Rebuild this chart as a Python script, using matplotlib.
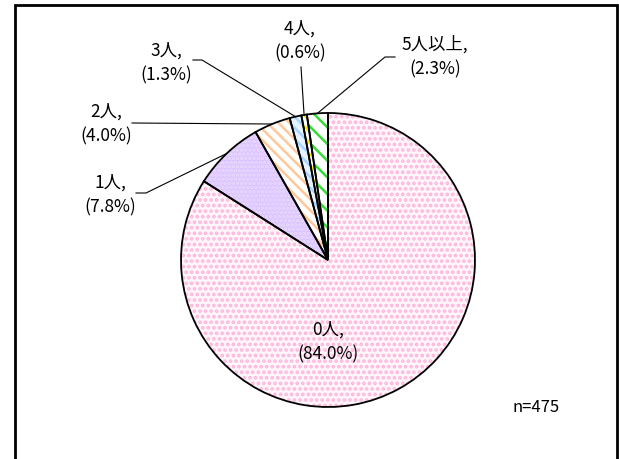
"""Pie chart of household counts (0人 .. 5人以上), n=475."""
import numpy as np
import matplotlib
matplotlib.use("Agg")
import matplotlib.pyplot as plt
from matplotlib.patches import Rectangle

plt.rcParams["font.family"] = ["Noto Sans CJK JP", "DejaVu Sans"]
plt.rcParams["hatch.linewidth"] = 1.8

categories = ["0人", "1人", "2人", "3人", "4人", "5人以上"]
shares = [84.0, 7.8, 4.0, 1.3, 0.6, 2.3]
n_total = 475

face_colors = ["#FFF6FB", "#DCC4FF", "#FFFFFF", "#E6F2FF", "#FFFFFF", "#FFFFFF"]
hatch_colors = ["#FFB4DA", "#EADCFF", "#FFC79A", "#A8D4FF", "#FFE800", "#33DD33"]
hatches = ["...", "....", "\\\\\\", "\\\\\\", "\\\\\\", "\\\\"]

W, H = 619, 459
CX, CY, R = 328, H - 260, 147

# label anchor (x, y) in px from top-left, and leader path start
label_pos = {
    "0人": (328, 342),
    "1人": (110, 195),
    "2人": (106, 124),
    "3人": (166, 63),
    "4人": (300, 41),
    "5人以上": (435, 57),
}
leader_start = {
    "1人": [(136, 193), (146, 193)],
    "2人": [(132, 123)],
    "3人": [(193, 60), (202, 60)],
    "4人": [(301, 67)],
    "5人以上": [(395, 57), (385, 57)],
}

fig = plt.figure(figsize=(W / 100, H / 100), dpi=100)
ax = fig.add_axes([0, 0, 1, 1])

# hatched fill pass (hatch colour comes from edgecolor)
wedges, _ = ax.pie(shares, startangle=90, counterclock=False, center=(CX, CY),
                   radius=R, colors=face_colors, frame=True,
                   wedgeprops=dict(linewidth=0))
for w, hc, ht in zip(wedges, hatch_colors, hatches):
    w.set_edgecolor(hc)
    w.set_hatch(ht)

# outline pass
outline, _ = ax.pie(shares, startangle=90, counterclock=False, center=(CX, CY),
                    radius=R, frame=True,
                    wedgeprops=dict(fill=False, edgecolor="black", linewidth=1.3))
ax.set_xlim(0, W)
ax.set_ylim(0, H)
ax.set_aspect("equal")
ax.axis("off")

for w, cat, pct in zip(outline, categories, shares):
    lx, ly = label_pos[cat]
    ax.text(lx, H - ly, f"{cat},\n({pct:.1f}%)", ha="center", va="center",
            fontsize=12.5, linespacing=1.45)
    if cat in leader_start:
        mid = np.deg2rad((w.theta1 + w.theta2) / 2)
        ex, ey = CX + R * np.cos(mid), CY + R * np.sin(mid)
        pts = leader_start[cat]
        xs = [p[0] for p in pts] + [ex]
        ys = [H - p[1] for p in pts] + [ey]
        ax.plot(xs, ys, color="black", linewidth=0.8)

ax.text(536, H - 407, f"n={n_total}", ha="center", va="center", fontsize=12)

ax.add_patch(Rectangle((14.5, -20), 602, H - 4.5 + 20, fill=False,
                       edgecolor="black", linewidth=2, clip_on=True))

fig.savefig("out.png", dpi=100)
